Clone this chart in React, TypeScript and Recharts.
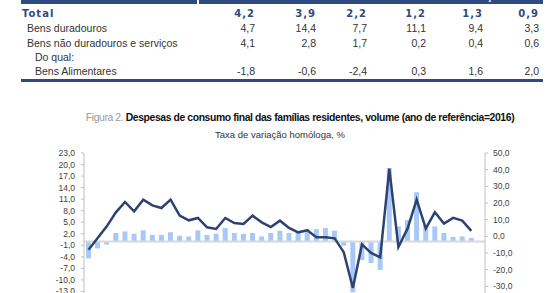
import React from "react";
import {
  ComposedChart,
  Bar,
  Line,
  XAxis,
  YAxis,
  ReferenceLine,
} from "recharts";

// Quarterly year-on-year rates, 1T13 .. 3T23 (last slot left empty)
const quarters = [
  "1T13", "2T13", "3T13", "4T13", "1T14", "2T14", "3T14", "4T14",
  "1T15", "2T15", "3T15", "4T15", "1T16", "2T16", "3T16", "4T16",
  "1T17", "2T17", "3T17", "4T17", "1T18", "2T18", "3T18", "4T18",
  "1T19", "2T19", "3T19", "4T19", "1T20", "2T20", "3T20", "4T20",
  "1T21", "2T21", "3T21", "4T21", "1T22", "2T22", "3T22", "4T22",
  "1T23", "2T23", "3T23", "4T23",
];

// Total (bars, left axis)
const totalRate = [
  -4.4, -1.8, -0.8, 2.2, 2.6, 2.0, 2.9, 1.7, 1.7, 2.4, 1.5, 1.3, 2.9, 1.7, 2.0,
  3.5, 2.2, 2.0, 2.2, 1.3, 2.2, 2.8, 2.2, 2.6, 3.3, 3.2, 3.5, 2.8, -1.1, -13.2,
  -4.8, -5.6, -7.4, 19.1, 3.9, 5.6, 12.8, 4.2, 3.9, 2.2, 1.2, 1.3, 0.9,
];

// Bens duradouros (line, right axis)
const durablesRate = [
  -8.0, -1.0, 6.0, 14.4, 20.6, 15.0, 22.0, 18.6, 17.0, 22.0, 12.4, 9.6, 11.0,
  5.4, 4.4, 11.0, 8.0, 7.4, 12.4, 8.4, 5.6, 9.4, 5.0, 2.4, 3.6, -0.6, -0.6,
  -1.2, -9.5, -31.0, -4.8, -10.0, -12.6, 40.6, -6.4, 4.6, 22.0, 4.7, 14.4, 7.7,
  11.1, 9.4, 3.3,
];

const leftTicks = [23, 20, 17, 14, 11, 8, 5, 2, -1, -4, -7, -10, -13, -16];
const rightTicks = [50, 40, 30, 20, 10, 0, -10, -20, -30, -40];

// Summary table
const tableLabels = [
  "Total",
  "Bens duradouros",
  "Bens não duradouros e serviços",
  "Do qual:",
  "Bens Alimentares",
];
const tableTotal = ["4,2", "3,9", "2,2", "1,2", "1,3", "0,9"];
const tableDurables = ["4,7", "14,4", "7,7", "11,1", "9,4", "3,3"];
const tableNonDurables = ["4,1", "2,8", "1,7", "0,2", "0,4", "0,6"];
const tableFood = ["-1,8", "-0,6", "-2,4", "0,3", "1,6", "2,0"];

const data = quarters.map((q, i) => ({
  q,
  total: i < totalRate.length ? totalRate[i] : null,
  durables: i < durablesRate.length ? durablesRate[i] : null,
}));

const fmt = (v: number) => v.toFixed(1).replace(".", ",");

const colRight = [255, 316, 367, 426, 483, 539];
const rowY = [14, 28.3, 42.7, 56.7, 71];
const navy = "#2f4a80";

function TableRow({ label, values, y, indent, bold }: any) {
  const font = bold
    ? { fontFamily: "DejaVu Sans", fontWeight: 700, fontSize: 10, color: navy, letterSpacing: 1 }
    : { fontFamily: "Liberation Sans", fontSize: 10.5, color: "#333" };
  return (
    <>
      <div style={{ position: "absolute", left: indent, top: y - 7, lineHeight: "14px", whiteSpace: "nowrap", ...font }}>
        {label}
      </div>
      {values &&
        values.map((v: string, i: number) => (
          <div
            key={i}
            style={{ position: "absolute", right: 560 - colRight[i], top: y - 7, lineHeight: "14px", whiteSpace: "nowrap", ...font }}
          >
            {v}
          </div>
        ))}
    </>
  );
}

export default function App() {
  const tick = { fill: "#404040", fontSize: 8.5, fontFamily: "Liberation Sans" };
  return (
    <div
      style={{
        position: "fixed",
        left: 0,
        top: 0,
        width: 560,
        height: 293,
        overflow: "hidden",
        background: "#fff",
        fontFamily: "Liberation Sans",
      }}
    >
      {/* table header band, mostly scrolled out of view */}
      <div style={{ position: "absolute", left: 21, top: 0, width: 176, height: 4, background: navy }} />
      <div style={{ position: "absolute", left: 199, top: 0, width: 344, height: 4, background: navy, overflow: "hidden" }}>
        <div style={{ position: "absolute", left: 222, bottom: 2, color: "#fff", fontSize: 10.5, fontWeight: 700, whiteSpace: "nowrap", lineHeight: "12px" }}>
          Taxa de variação homóloga (%)
        </div>
      </div>

      <TableRow label={tableLabels[0]} values={tableTotal} y={rowY[0]} indent={22} bold />
      <TableRow label={tableLabels[1]} values={tableDurables} y={rowY[1]} indent={27} />
      <TableRow label={tableLabels[2]} values={tableNonDurables} y={rowY[2]} indent={27} />
      <TableRow label={tableLabels[3]} y={rowY[3]} indent={35} />
      <TableRow label={tableLabels[4]} values={tableFood} y={rowY[4]} indent={35} />
      <div style={{ position: "absolute", left: 21, top: 79, width: 522, height: 2.5, background: navy }} />

      {/* figure title */}
      <div
        style={{
          position: "absolute",
          left: 0,
          width: 600,
          top: 111,
          textAlign: "center",
          fontSize: 10.4,
          letterSpacing: -0.4,
          whiteSpace: "nowrap",
          lineHeight: "14px",
        }}
      >
        <span style={{ color: "#9a9a9a" }}>Figura 2. </span>
        <span style={{ color: "#111", fontWeight: 700 }}>
          Despesas de consumo final das famílias residentes, volume (ano de referência=2016)
        </span>
      </div>
      <div
        style={{
          position: "absolute",
          left: 0,
          width: 560,
          top: 129,
          textAlign: "center",
          fontSize: 9.5,
          color: "#333",
          lineHeight: "12px",
        }}
      >
        Taxa de variação homóloga, %
      </div>

      <div style={{ position: "absolute", left: 0, top: 0 }}>
        <ComposedChart
          width={560}
          height={320}
          data={data}
          margin={{ top: 153, right: 0, bottom: 17, left: 0 }}
        >
          <XAxis dataKey="q" hide />
          <YAxis
            yAxisId="left"
            orientation="left"
            width={84}
            domain={[-16, 23]}
            ticks={leftTicks}
            interval={0}
            tickFormatter={fmt}
            tick={{ ...tick, dx: -4 }}
            tickSize={3}
            stroke="#bfbfbf"
          />
          <YAxis
            yAxisId="right"
            orientation="right"
            width={75}
            domain={[-40, 50]}
            ticks={rightTicks}
            interval={0}
            tickFormatter={fmt}
            tick={{ ...tick, dx: 3 }}
            tickSize={3}
            stroke="#bfbfbf"
          />
          <ReferenceLine yAxisId="left" y={0} stroke="#d9d9d9" strokeWidth={2} />
          <Bar yAxisId="left" dataKey="total" fill="#a8c9f5" barSize={5} isAnimationActive={false} />
          <Line
            yAxisId="right"
            dataKey="durables"
            stroke="#2e4272"
            strokeWidth={2.5}
            dot={false}
            type="linear"
            isAnimationActive={false}
          />
        </ComposedChart>
      </div>
    </div>
  );
}
